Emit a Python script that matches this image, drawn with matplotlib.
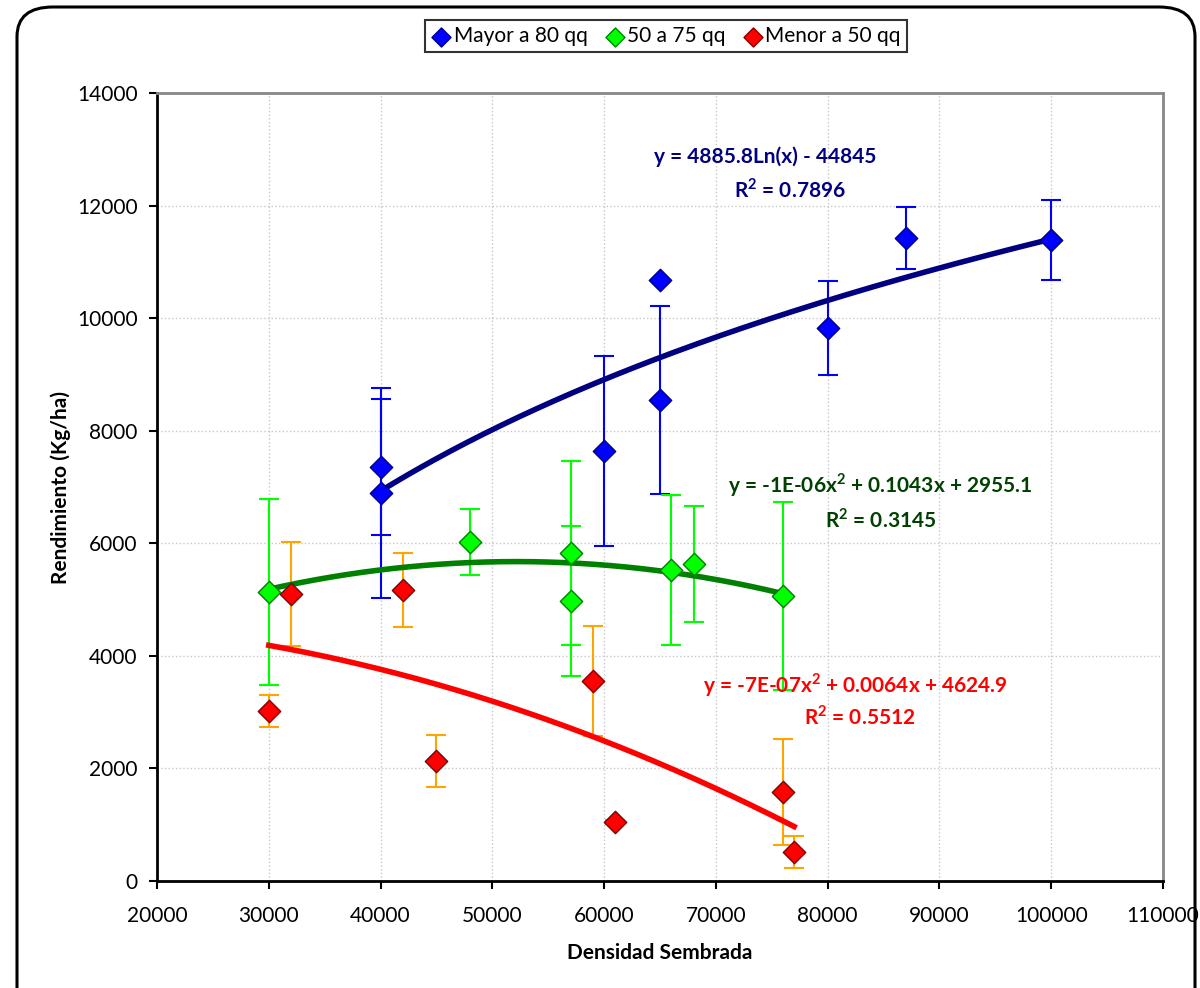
import numpy as np
import matplotlib.pyplot as plt
from matplotlib.patches import FancyBboxPatch

plt.rcParams['font.family'] = ['Lato', 'DejaVu Sans']
plt.rcParams['mathtext.fontset'] = 'custom'
plt.rcParams['mathtext.rm'] = 'Lato'
plt.rcParams['mathtext.bf'] = 'Lato:bold'

# Mayor a 80 qq
x_may = [40000, 40000, 60000, 65000, 65000, 80000, 87000, 100000]
y_may = [7355, 6893, 7640, 10677, 8545, 9824, 11423, 11388]
e_may = [1200, 1860, 1690, 0, 1670, 840, 550, 710]

# 50 a 75 qq
x_med = [30000, 48000, 57000, 57000, 66000, 68000, 76000]
y_med = [5134, 6022, 5827, 4974, 5525, 5632, 5063]
e_med = [1660, 580, 1630, 1330, 1330, 1030, 1670]

# Menor a 50 qq
x_men = [30000, 32000, 42000, 45000, 59000, 61000, 76000, 77000]
y_men = [3020, 5099, 5170, 2132, 3553, 1048, 1581, 515]
e_men = [285, 915, 650, 470, 975, 40, 940, 280]

# trendline coefficients as shown on the chart
log_coef = (4885.8, -44845)
quad_med = (-1e-06, 0.1043, 2955.1)
quad_men = (-7e-07, 0.0064, 4624.9)

fig = plt.figure(figsize=(12, 9.88), dpi=100)
border = FancyBboxPatch((17/1200, -0.05), (1195-17)/1200, (988-7)/988 + 0.05,
                        boxstyle="round,pad=0,rounding_size=0.03",
                        transform=fig.transFigure, fill=False, ec='black', lw=2.2)
fig.patches.append(border)

ax = fig.add_axes([157/1200, 107/988, (1163-157)/1200, (881-93)/988])

ax.grid(True, color='#c8c8c8', linestyle=':', linewidth=1.0)
ax.set_axisbelow(True)

# error bars
ax.errorbar(x_may, y_may, yerr=e_may, fmt='none', ecolor='#0000ff', elinewidth=1.5, capsize=7, capthick=1.5, zorder=2)
ax.errorbar(x_med, y_med, yerr=e_med, fmt='none', ecolor='#00ff00', elinewidth=1.5, capsize=7, capthick=1.5, zorder=2)
ax.errorbar(x_men, y_men, yerr=e_men, fmt='none', ecolor='#ffa500', elinewidth=1.5, capsize=7, capthick=1.5, zorder=2)

# trendlines
xs = np.linspace(min(x_may), max(x_may), 200)
ax.plot(xs, log_coef[0]*np.log(xs) + log_coef[1], color='#000080', lw=4, zorder=3)
xs = np.linspace(min(x_med), max(x_med), 200)
ax.plot(xs, np.polyval(quad_med, xs), color='#008000', lw=4, zorder=3)
xs = np.linspace(min(x_men), max(x_men), 200)
ax.plot(xs, np.polyval(quad_men, xs), color='#ff0000', lw=4, zorder=3)

ax.scatter(x_may, y_may, marker='D', s=130, color='#0000ff', edgecolor='#000080', lw=1, zorder=4, label='Mayor a 80 qq')
ax.scatter(x_med, y_med, marker='D', s=130, color='#00ff00', edgecolor='#008000', lw=1, zorder=4, label='50 a 75 qq')
ax.scatter(x_men, y_men, marker='D', s=130, color='#ff0000', edgecolor='#800000', lw=1, zorder=4, label='Menor a 50 qq')

ax.set_xlim(20000, 110000)
ax.set_ylim(0, 14000)
ax.set_xticks(np.arange(20000, 110001, 10000))
ax.set_yticks(np.arange(0, 14001, 2000))
ax.tick_params(axis='both', labelsize=15, direction='out', length=6, width=1.5, pad=8)
ax.tick_params(axis='x', pad=12)

for s in ['left', 'bottom']:
    ax.spines[s].set_color('black')
    ax.spines[s].set_linewidth(2)
for s in ['top', 'right']:
    ax.spines[s].set_color('#888888')
    ax.spines[s].set_linewidth(2)

ax.set_xlabel('Densidad Sembrada', fontsize=15, fontweight='bold', labelpad=12)
ax.set_ylabel('Rendimiento (Kg/ha)', fontsize=15, fontweight='bold', labelpad=4)

kw = dict(fontsize=15, fontweight='bold', ha='center', va='center')
ax.text(74400, 12862, 'y = 4885.8Ln(x) - 44845', color='#000080', **kw)
ax.text(76600, 12276, r'R$^{\mathbf{2}}$ = 0.7896', color='#000080', **kw)
ax.text(84700, 7035, r'y = -1E-06x$^{\mathbf{2}}$ + 0.1043x + 2955.1', color='#004000', **kw)
ax.text(84700, 6413, r'R$^{\mathbf{2}}$ = 0.3145', color='#004000', **kw)
ax.text(82430, 3482, r'y = -7E-07x$^{\mathbf{2}}$ + 0.0064x + 4624.9', color='#ff0000', **kw)
ax.text(82900, 2913, r'R$^{\mathbf{2}}$ = 0.5512', color='#ff0000', **kw)

leg = fig.legend(loc='center', bbox_to_anchor=(666/1200, 1 - 36/988), ncol=3, fontsize=15,
                 frameon=True, fancybox=False, edgecolor='black', handletextpad=0.1,
                 columnspacing=0.8, borderpad=0.3, handlelength=1.0, markerscale=0.85)
leg.get_frame().set_linewidth(1.5)

fig.savefig('out.png', dpi=100)
